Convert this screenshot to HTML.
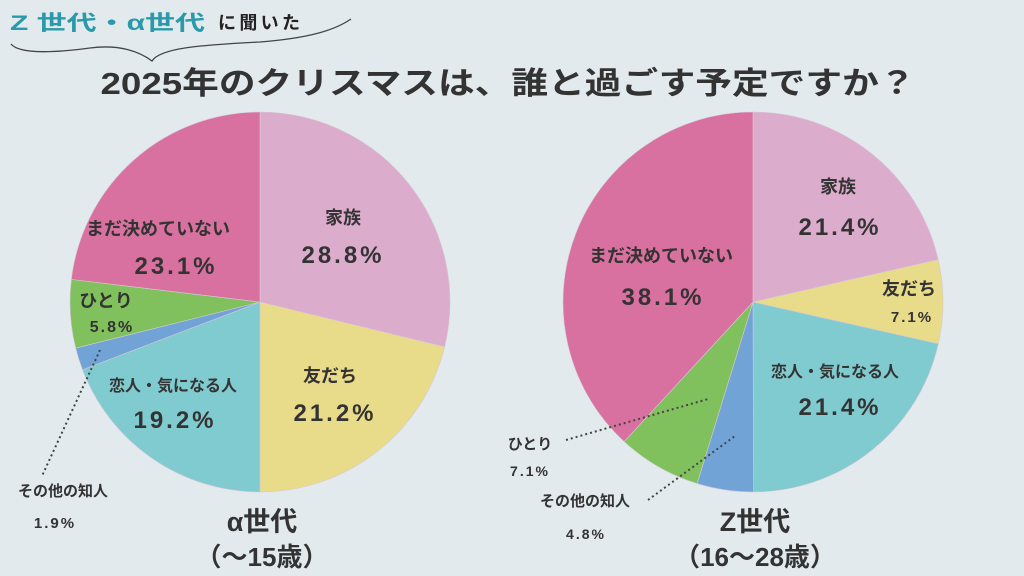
<!DOCTYPE html>
<html><head><meta charset="utf-8"><style>
html,body{margin:0;padding:0;background:#e3eaed;}
svg{display:block;font-family:"Liberation Sans","Noto Sans CJK JP",sans-serif;font-weight:bold;}
</style></head><body>
<svg id="s" width="1024" height="576" viewBox="0 0 1024 576">
<rect width="1024" height="576" fill="#e3eaed"/>
<g id="pies"></g>
<path d="M11,44 C20,55 60,52 90,48 C120,44 140,52 152,61 C160,48 200,45 260,42 C310,38 335,30 351,19" fill="none" stroke="#444" stroke-width="1.3"/>
<text x="10" y="30" font-size="21" fill="#2a9aab" textLength="195" lengthAdjust="spacingAndGlyphs">Z 世代・α世代</text>
<text x="218" y="29" font-size="18" fill="#222" textLength="82">に聞いた</text>
<text x="508" y="94" text-anchor="middle" font-size="31" fill="#333" textLength="815" lengthAdjust="spacingAndGlyphs">2025年のクリスマスは、誰と過ごす予定ですか？</text>
<g fill="#333" text-anchor="middle">
<text x="343" y="224" font-size="18">家族</text>
<text x="343" y="263" font-size="24" letter-spacing="3">28.8%</text>
<text x="330" y="382" font-size="18">友だち</text>
<text x="335" y="421" font-size="24" letter-spacing="3">21.2%</text>
<text x="173" y="391" font-size="16">恋人・気になる人</text>
<text x="175" y="428" font-size="24" letter-spacing="3">19.2%</text>
<text x="158" y="235" font-size="18">まだ決めていない</text>
<text x="176" y="274" font-size="24" letter-spacing="3">23.1%</text>
<text x="106" y="307" font-size="18">ひとり</text>
<text x="112" y="332" font-size="16" letter-spacing="2">5.8%</text>
<text x="63" y="496" font-size="15">その他の知人</text>
<text x="55" y="528" font-size="15" letter-spacing="2">1.9%</text>
<text x="262" y="531" font-size="27">α世代</text>
<text x="262" y="566" font-size="26">（～15歳）</text>
<text x="838" y="193" font-size="18">家族</text>
<text x="840" y="235" font-size="24" letter-spacing="3">21.4%</text>
<text x="909" y="295" font-size="18">友だち</text>
<text x="912" y="322" font-size="15" letter-spacing="2">7.1%</text>
<text x="835" y="377" font-size="16">恋人・気になる人</text>
<text x="840" y="415" font-size="24" letter-spacing="3">21.4%</text>
<text x="661" y="262" font-size="18">まだ決めていない</text>
<text x="663" y="305" font-size="24" letter-spacing="3">38.1%</text>
<text x="530" y="449" font-size="15">ひとり</text>
<text x="530" y="476" font-size="14" letter-spacing="2">7.1%</text>
<text x="585" y="506" font-size="15">その他の知人</text>
<text x="586" y="539" font-size="14" letter-spacing="2">4.8%</text>
<text x="755" y="531" font-size="27">Z世代</text>
<text x="755" y="566" font-size="26">（16～28歳）</text>
</g>
<g stroke="#444" stroke-width="2" stroke-dasharray="2,3" fill="none">
<line x1="100" y1="350" x2="42" y2="476"/>
<line x1="566" y1="440" x2="708" y2="399"/>
<line x1="648" y1="500" x2="735" y2="436"/>
</g>
</svg>
<script>
function pie(cx,cy,r,vals){
 var cols=["#dcaccc","#e8dc8a","#80cbcf","#72a3d7","#80c15e","#d8719f"];
 var g=document.getElementById("pies"),a=0,out="";
 var tot=vals.reduce(function(s,v){return s+v},0);
 vals.forEach(function(v,i){
  var a2=a+v/tot*2*Math.PI;
  var x1=cx+r*Math.sin(a),y1=cy-r*Math.cos(a),x2=cx+r*Math.sin(a2),y2=cy-r*Math.cos(a2);
  out+='<path d="M'+cx+','+cy+' L'+x1+','+y1+' A'+r+','+r+' 0 '+((a2-a)>Math.PI?1:0)+' 1 '+x2+','+y2+' Z" fill="'+cols[i]+'" stroke="#d6c8d6" stroke-width="0.6"/>';
  a=a2;
 });
 g.innerHTML+=out;
}
pie(260,302,190,[28.8,21.2,19.2,1.9,5.8,23.1]);
pie(753,302,190,[21.4,7.1,21.4,4.8,7.1,38.1]);
</script>
</body></html>
